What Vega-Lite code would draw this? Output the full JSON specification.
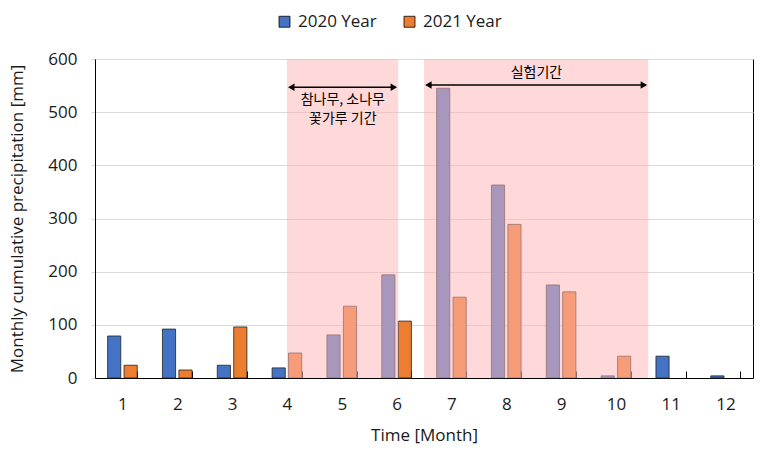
{
  "$schema": "https://vega.github.io/schema/vega-lite/v6.json",
  "width": 658,
  "height": 319,
  "autosize": "none",
  "padding": {"left": 95, "top": 59, "right": 16, "bottom": 82},
  "background": "white",
  "config": {"view": {"stroke": "black", "strokeWidth": 1}, "font": "Open Sans"},
  "layer": [
    {
      "data": {"values": [
        {"month": 1, "year": "2020 Year", "value": 79},
        {"month": 1, "year": "2021 Year", "value": 24},
        {"month": 2, "year": "2020 Year", "value": 92},
        {"month": 2, "year": "2021 Year", "value": 15},
        {"month": 3, "year": "2020 Year", "value": 24},
        {"month": 3, "year": "2021 Year", "value": 96},
        {"month": 4, "year": "2020 Year", "value": 19},
        {"month": 4, "year": "2021 Year", "value": 47},
        {"month": 5, "year": "2020 Year", "value": 81},
        {"month": 5, "year": "2021 Year", "value": 135},
        {"month": 6, "year": "2020 Year", "value": 194},
        {"month": 6, "year": "2021 Year", "value": 107},
        {"month": 7, "year": "2020 Year", "value": 545},
        {"month": 7, "year": "2021 Year", "value": 152},
        {"month": 8, "year": "2020 Year", "value": 363},
        {"month": 8, "year": "2021 Year", "value": 289},
        {"month": 9, "year": "2020 Year", "value": 175},
        {"month": 9, "year": "2021 Year", "value": 162},
        {"month": 10, "year": "2020 Year", "value": 4},
        {"month": 10, "year": "2021 Year", "value": 41},
        {"month": 11, "year": "2020 Year", "value": 41},
        {"month": 12, "year": "2020 Year", "value": 4}
      ]},
      "mark": {"type": "bar", "stroke": "#222222", "strokeWidth": 0.8},
      "encoding": {
        "x": {
          "field": "month", "type": "ordinal",
          "scale": {"domain": [1,2,3,4,5,6,7,8,9,10,11,12], "paddingInner": 0.46, "paddingOuter": 0.23},
          "axis": {
            "title": "Time [Month]", "labelAngle": 0, "tickBand": "extent", "tickSize": -7,
            "tickColor": "black", "domainColor": "black", "labelFontSize": 17, "labelColor": "#1a1a1a",
            "labelPadding": 25, "titleFontSize": 17, "titleFontWeight": "normal", "titleColor": "#1a1a1a",
            "titlePadding": 15
          }
        },
        "xOffset": {"field": "year", "type": "nominal", "scale": {"paddingInner": 0.2}},
        "y": {
          "field": "value", "type": "quantitative",
          "scale": {"domain": [0, 600], "nice": false},
          "axis": {
            "title": "Monthly cumulative precipitation [mm]", "values": [0,100,200,300,400,500,600],
            "grid": true, "gridColor": "#d9d9d9", "tickColor": "#d9d9d9", "tickSize": 4,
            "domainColor": "black", "labelFontSize": 17, "labelColor": "#1a1a1a", "labelPadding": 14,
            "titleFontSize": 17, "titleFontWeight": "normal", "titleColor": "#1a1a1a", "titlePadding": 21
          }
        },
        "color": {
          "field": "year", "type": "nominal",
          "scale": {"domain": ["2020 Year", "2021 Year"], "range": ["#4472C4", "#ED7D31"]},
          "legend": {
            "orient": "none", "legendX": 181, "legendY": -46, "direction": "horizontal", "title": null,
            "labelFontSize": 17, "labelColor": "#1a1a1a", "symbolType": "square", "symbolSize": 120,
            "symbolStrokeColor": "black", "symbolStrokeWidth": 0.8, "columnPadding": 24, "labelOffset": 5
          }
        }
      }
    },
    {
      "data": {"values": [
        {"start": 4.0, "end": 6.03},
        {"start": 6.5, "end": 10.59}
      ]},
      "mark": {"type": "rect", "color": "#FFB8B8", "opacity": 0.535},
      "encoding": {
        "x": {"field": "start", "type": "quantitative", "scale": {"domain": [0.5, 12.5], "nice": false, "zero": false}, "axis": null},
        "x2": {"field": "end"},
        "y": {"datum": 0, "type": "quantitative"},
        "y2": {"datum": 600}
      }
    },
    {
      "data": {"values": [
        {"x1": 4.05, "x2": 5.98, "y": 547},
        {"x1": 6.55, "x2": 10.54, "y": 551}
      ]},
      "mark": {"type": "rule", "color": "black", "strokeWidth": 1.5},
      "encoding": {
        "x": {"field": "x1", "type": "quantitative", "scale": {"domain": [0.5, 12.5], "nice": false, "zero": false}, "axis": null},
        "x2": {"field": "x2"},
        "y": {"field": "y", "type": "quantitative"}
      }
    },
    {
      "data": {"values": [
        {"x": 4.08, "y": 547, "dir": "left"},
        {"x": 5.95, "y": 547, "dir": "right"},
        {"x": 6.58, "y": 551, "dir": "left"},
        {"x": 10.51, "y": 551, "dir": "right"}
      ]},
      "mark": {"type": "point", "filled": true, "color": "black", "opacity": 1, "size": 55},
      "encoding": {
        "x": {"field": "x", "type": "quantitative", "scale": {"domain": [0.5, 12.5], "nice": false, "zero": false}, "axis": null},
        "y": {"field": "y", "type": "quantitative"},
        "shape": {"field": "dir", "type": "nominal", "scale": {"domain": ["left", "right"], "range": ["triangle-left", "triangle-right"]}, "legend": null}
      }
    },
    {
      "data": {"values": [
        {"label": "실험기간", "x": 8.55, "y": 574},
        {"label": "참나무, 소나무", "x": 5.02, "y": 523},
        {"label": "꽃가루 기간", "x": 5.02, "y": 488}
      ]},
      "mark": {"type": "text", "font": "Noto Sans CJK KR", "fontSize": 14, "color": "black", "baseline": "middle", "align": "center"},
      "encoding": {
        "x": {"field": "x", "type": "quantitative", "scale": {"domain": [0.5, 12.5], "nice": false, "zero": false}, "axis": null},
        "y": {"field": "y", "type": "quantitative"},
        "text": {"field": "label"}
      }
    }
  ],
  "resolve": {"scale": {"x": "independent"}}
}
